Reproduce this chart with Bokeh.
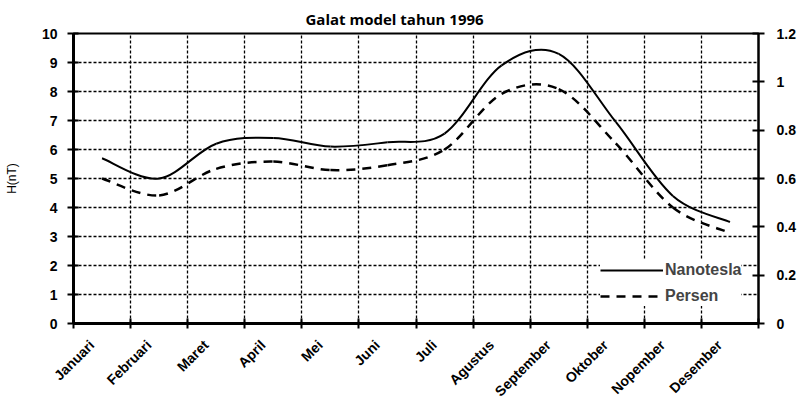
import math
from bokeh.plotting import figure
from bokeh.models import (Range1d, LinearAxis, FixedTicker, NumeralTickFormatter,
                          Legend, LegendItem)
from bokeh.embed import file_html
from bokeh.resources import INLINE

# ---- data ----
months = ["Januari", "Februari", "Maret", "April", "Mei", "Juni", "Juli",
          "Agustus", "September", "Oktober", "Nopember", "Desember"]
nanotesla = [5.7, 5.0, 6.2, 6.4, 6.1, 6.25, 6.55, 8.9, 9.3, 6.95, 4.4, 3.5]
persen = [0.6, 0.53, 0.64, 0.67, 0.635, 0.655, 0.72, 0.95, 0.97, 0.745, 0.48, 0.375]
left_ticks = [0, 1, 2, 3, 4, 5, 6, 7, 8, 9, 10]
right_ticks = [0, 0.2, 0.4, 0.6, 0.8, 1, 1.2]
title_text = "Galat model tahun 1996"
y_label = "H(nT)"

xs = list(range(len(months)))
LABEL_SHIFT = -0.18  # rotated labels sit slightly left of the category centre


def smooth_segments(x, y):
    """Catmull-Rom style Bezier control points through the data points."""
    n = len(x)
    out = dict(x0=[], y0=[], x1=[], y1=[], cx0=[], cy0=[], cx1=[], cy1=[])
    for i in range(n - 1):
        im1 = max(i - 1, 0)
        ip2 = min(i + 2, n - 1)
        out["x0"].append(x[i]); out["y0"].append(y[i])
        out["x1"].append(x[i + 1]); out["y1"].append(y[i + 1])
        out["cx0"].append(x[i] + (x[i + 1] - x[im1]) / 6.0)
        out["cy0"].append(y[i] + (y[i + 1] - y[im1]) / 6.0)
        out["cx1"].append(x[i + 1] - (x[ip2] - x[i]) / 6.0)
        out["cy1"].append(y[i + 1] - (y[ip2] - y[i]) / 6.0)
    return out


p = figure(width=803, height=407, output_backend="svg", toolbar_location=None,
           x_range=Range1d(-0.5, len(months) - 0.5), y_range=Range1d(0, 10),
           min_border_left=73, min_border_right=45, min_border_top=33,
           min_border_bottom=81)
p.extra_y_ranges = {"right": Range1d(0, 1.2)}

p.background_fill_color = "white"
p.border_fill_color = "white"
p.outline_line_color = "black"
p.outline_line_width = 2

# title
p.title.text = title_text
p.title.text_font = "Open Sans"
p.title.text_font_style = "bold"
p.title.text_font_size = "15px"
p.title.text_color = "black"
p.title.align = "left"
p.title.offset = 232
p.title.standoff = 9

TICK_FONT = "Liberation Sans"

# x axis
label_pos = [round(i + LABEL_SHIFT, 2) for i in xs]
xa = p.xaxis[0]
xa.ticker = FixedTicker(ticks=label_pos,
                        minor_ticks=[i - 0.5 for i in range(len(months) + 1)])
xa.major_label_overrides = {pos: m for pos, m in zip(label_pos, months)}
xa.major_label_orientation = math.pi / 4
xa.major_tick_line_color = None
xa.minor_tick_line_color = "black"
xa.minor_tick_line_width = 2
xa.minor_tick_in = 5
xa.minor_tick_out = 5
xa.axis_line_width = 3
xa.axis_line_color = "black"
xa.major_label_text_font = TICK_FONT
xa.major_label_text_font_style = "bold"
xa.major_label_text_font_size = "14px"
xa.major_label_text_color = "black"
xa.major_label_standoff = 13

# left axis
ya = p.yaxis[0]
ya.ticker = FixedTicker(ticks=left_ticks)
ya.axis_label = y_label
ya.axis_label_text_font = TICK_FONT
ya.axis_label_text_font_style = "normal"
ya.axis_label_text_font_size = "12px"
ya.axis_label_text_color = "black"
ya.axis_label_standoff = 20
ya.axis_line_width = 3
ya.major_tick_in = 5
ya.major_tick_out = 6
ya.major_tick_line_width = 2
ya.minor_tick_line_color = None
ya.major_label_text_font = TICK_FONT
ya.major_label_text_font_style = "bold"
ya.major_label_text_font_size = "14px"
ya.major_label_text_color = "black"
ya.major_label_standoff = 10

# right axis
ra = LinearAxis(y_range_name="right", ticker=FixedTicker(ticks=right_ticks),
                formatter=NumeralTickFormatter(format="0.[0]"))
ra.axis_line_width = 2
ra.major_tick_in = 6
ra.major_tick_out = 6
ra.major_tick_line_width = 2
ra.minor_tick_line_color = None
ra.major_label_text_font = TICK_FONT
ra.major_label_text_font_style = "bold"
ra.major_label_text_font_size = "14px"
ra.major_label_text_color = "black"
ra.major_label_standoff = 12
p.add_layout(ra, "right")

# grid
p.xgrid.ticker = FixedTicker(ticks=[i + 0.5 for i in range(len(months) - 1)])
p.ygrid.ticker = FixedTicker(ticks=left_ticks[1:-1])
for g in (p.xgrid[0], p.ygrid[0]):
    g.grid_line_color = "black"
    g.grid_line_width = 1.3
    g.grid_line_dash = "3 2"

# series
seg_n = smooth_segments(xs, nanotesla)
seg_p = smooth_segments(xs, persen)
r_n = p.bezier(line_color="black", line_width=2, **seg_n)
r_p = p.bezier(line_color="black", line_width=2.5, line_dash="9 7",
               y_range_name="right", **seg_p)

legend = Legend(items=[LegendItem(label="Nanotesla", renderers=[r_n]),
                       LegendItem(label="Persen", renderers=[r_p])],
                location=(527, 17))
legend.background_fill_color = "white"
legend.background_fill_alpha = 1
legend.border_line_color = None
legend.glyph_width = 63
legend.glyph_height = 20
legend.spacing = 6
legend.padding = 3
legend.margin = 0
legend.label_standoff = 2
legend.label_text_font = TICK_FONT
legend.label_text_font_style = "bold"
legend.label_text_font_size = "16px"
p.add_layout(legend)

open("out.html", "w").write(file_html(p, INLINE))
